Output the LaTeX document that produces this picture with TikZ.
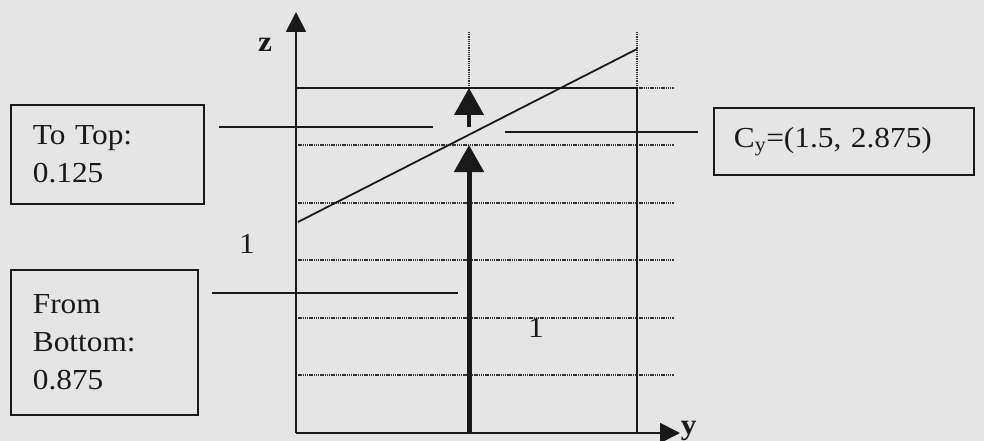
\documentclass[tikz,border=0pt]{standalone}
\usepackage{fontspec}
\setmainfont{Liberation Serif}[FakeStretch=1.08]
\usetikzlibrary{arrows.meta}
\definecolor{bg}{RGB}{229,229,229}
\definecolor{ink}{RGB}{25,25,25}
\begin{document}
\begin{tikzpicture}[x=1pt,y=-1pt,line width=1.8pt,draw=ink,
  box/.style={draw=ink,line width=1.8pt,anchor=north west,align=left,inner sep=0pt,
    font=\fontsize{29}{38}\selectfont,text=ink},
  lbl/.style={font=\fontsize{29}{38}\selectfont,inner sep=0pt,text=ink},
  axlbl/.style={font=\fontsize{29}{38}\selectfont\bfseries,inner sep=0pt,text=ink},
  gridline/.style={line width=1.1pt,dash pattern=on 1.3pt off 0.9pt,draw=black!80},
  axis/.style={line width=1.8pt,-{Triangle[length=20pt,width=20pt]}},
  force/.style={line width=5pt,-{Triangle[length=27pt,width=29pt]}},
  leader/.style={line width=1.8pt}]
\useasboundingbox[fill=bg] (0,0) rectangle (984,441);
% coordinates
\coordinate (O) at (296,433);
\coordinate (TL) at (296,88);
\coordinate (TR) at (637,88);
\coordinate (BR) at (637,433);
% grid
\foreach \yy in {145,203,260,318,375}{\draw[gridline] (296,\yy) -- (674,\yy);}
\draw[gridline] (637,88) -- (674,88);
\draw[gridline] (469,32) -- (469,88);
\draw[gridline] (637,32) -- (637,88);
% rectangle
\draw (TL) -- (TR) -- (BR);
% sloped line
\coordinate (S1) at (298,222);
\coordinate (S2) at (637,49);
\draw (S1) -- (S2);
% axes
\coordinate (zt) at (296,12);
\coordinate (yt) at (680,433);
\draw[axis] (O) -- (zt);
\draw[axis] (O) -- (yt);
\node[axlbl] (zl) at (265,45) {z};
\node[axlbl,anchor=north west] (yl) at (680,420) {y};
% force arrows
\coordinate (F0) at (469,433);
\coordinate (F1) at (469,145);
\coordinate (F2) at (469,127);
\coordinate (F3) at (469,88);
\draw[force] (F0) -- (F1);
\draw[force,line width=4pt] (F2) -- (F3);
% labels
\node[lbl] (one1) at (247,244) {1};
\node[lbl] (one2) at (536,328) {1};
% boxes
\node[box,minimum width=193pt,minimum height=99pt,text width=149pt] (top) at (10,104) {To Top:\\0.125};
\node[box,minimum width=187pt,minimum height=145pt,text width=143pt] (bot) at (10,269) {From\\Bottom:\\0.875};
\node[box,minimum width=260pt,minimum height=67pt,text width=220pt] (cy) at (713,107) {C\textsubscript{y}=(1.5, 2.875)};
% leader lines
\coordinate (la) at (219,127);
\coordinate (lb) at (433,127);
\coordinate (lc) at (212,293);
\coordinate (ld) at (458,293);
\coordinate (le) at (505,132);
\coordinate (lf) at (698,132);
\draw[leader] (la) -- (lb);
\draw[leader] (lc) -- (ld);
\draw[leader] (le) -- (lf);
\end{tikzpicture}
\end{document}
